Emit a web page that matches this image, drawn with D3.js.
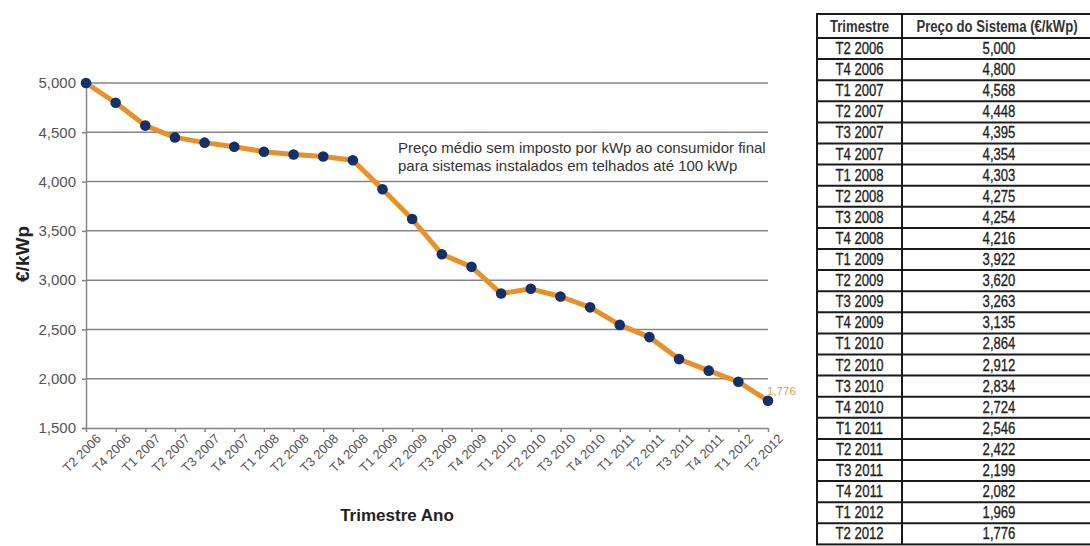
<!DOCTYPE html>
<html>
<head>
<meta charset="utf-8">
<script src="https://cdn.jsdelivr.net/npm/d3@7"></script>
<style>
  html, body { margin: 0; padding: 0; background: #fff; }
  svg { display: block; }
</style>
</head>
<body>
<svg id="chart" width="1090" height="546"></svg>
<script>
const categories = ["T2 2006","T4 2006","T1 2007","T2 2007","T3 2007","T4 2007","T1 2008","T2 2008","T3 2008","T4 2008","T1 2009","T2 2009","T3 2009","T4 2009","T1 2010","T2 2010","T3 2010","T4 2010","T1 2011","T2 2011","T3 2011","T4 2011","T1 2012","T2 2012"];
const prices = [5000,4800,4568,4448,4395,4354,4303,4275,4254,4216,3922,3620,3263,3135,2864,2912,2834,2724,2546,2422,2199,2082,1969,1776];
const yTicks = [1500,2000,2500,3000,3500,4000,4500,5000];
const tableHeaders = ["Trimestre","Preço do Sistema (€/kWp)"];
const yTitle = "€/kWp";
const xTitle = "Trimestre Ano";
const noteLines = ["Preço médio sem imposto por kWp ao consumidor final","para sistemas instalados em telhados até 100 kWp"];

const svg = d3.select("#chart");
const fmt = d3.format(",");
const FONT = "'Liberation Sans', Arial, sans-serif";

const x = d3.scalePoint().domain(categories).range([86, 768]);
const y = d3.scaleLinear().domain([1500, 5000]).range([428, 83]);

// gridlines
svg.append("g").selectAll("line").data(yTicks.slice(1)).join("line")
  .attr("x1", 86).attr("x2", 768)
  .attr("y1", d => y(d)).attr("y2", d => y(d))
  .attr("stroke", "#858585").attr("stroke-width", 1.5);

// y axis
const yAxis = svg.append("g").attr("transform", "translate(86,0)")
  .call(d3.axisLeft(y).tickValues(yTicks).tickFormat(fmt).tickSize(4).tickPadding(6));
yAxis.select(".domain").attr("stroke", "#858585").attr("stroke-width", 1.5);
yAxis.selectAll(".tick line").attr("stroke", "#858585").attr("stroke-width", 1.5);
yAxis.selectAll("text").attr("font-family", FONT)
  .attr("font-size", 15).attr("fill", "#555");

// x axis
const xAxis = svg.append("g").attr("transform", "translate(0,428)")
  .call(d3.axisBottom(x).tickSize(4).tickPadding(3).tickSizeOuter(0));
xAxis.select(".domain").attr("stroke", "#858585").attr("stroke-width", 1.5);
xAxis.selectAll(".tick line").attr("stroke", "#858585").attr("stroke-width", 1.5);
xAxis.selectAll("text")
  .attr("font-family", FONT)
  .attr("font-size", 13).attr("fill", "#555")
  .attr("text-anchor", "end")
  .attr("dy", "0.6em")
  .attr("transform", "translate(5,1) rotate(-45)");

// line
const line = d3.line().x((d, i) => x(categories[i])).y(d => y(d));
svg.append("path").datum(prices)
  .attr("d", line).attr("fill", "none")
  .attr("stroke", "#e8912b").attr("stroke-width", 5)
  .attr("stroke-linejoin", "round");

svg.append("g").selectAll("circle").data(prices).join("circle")
  .attr("cx", (d, i) => x(categories[i])).attr("cy", d => y(d))
  .attr("r", 5.3).attr("fill", "#13306b");

// last value label
svg.append("text")
  .attr("x", x(categories[categories.length - 1]) - 1)
  .attr("y", y(prices[prices.length - 1]) - 6)
  .attr("font-family", FONT)
  .attr("font-size", 11.5).attr("fill", "#d4a25a")
  .text(fmt(prices[prices.length - 1]));

// titles
svg.append("text")
  .attr("transform", "translate(29,254) rotate(-90)")
  .attr("text-anchor", "middle")
  .attr("font-family", FONT)
  .attr("font-size", 19).attr("font-weight", "bold").attr("fill", "#222")
  .text(yTitle);

svg.append("text")
  .attr("x", 397).attr("y", 521)
  .attr("text-anchor", "middle")
  .attr("font-family", FONT)
  .attr("font-size", 17).attr("font-weight", "bold").attr("fill", "#222")
  .text(xTitle);

// annotation
svg.append("g").selectAll("text").data(noteLines).join("text")
  .attr("x", 398).attr("y", (d, i) => 153 + i * 18)
  .attr("font-family", FONT)
  .attr("font-size", 15).attr("fill", "#333")
  .text(d => d);

// table
const tX0 = 817, tX1 = 902, tX2 = 1092;
const headTop = 14, headBottom = 38;
const rowH = 21.1;
const tbl = svg.append("g");
const SX = 0.82;

tbl.append("rect").attr("x", tX0).attr("y", headTop)
  .attr("width", tX2 - tX0).attr("height", headBottom - headTop + rowH * categories.length)
  .attr("fill", "#fff").attr("stroke", "#1a1a1a").attr("stroke-width", 2);

tbl.append("line").attr("x1", tX1).attr("x2", tX1)
  .attr("y1", headTop).attr("y2", headBottom + rowH * categories.length)
  .attr("stroke", "#1a1a1a").attr("stroke-width", 2);

tbl.selectAll("line.row").data(categories).join("line").attr("class", "row")
  .attr("x1", tX0).attr("x2", tX2)
  .attr("y1", (d, i) => headBottom + i * rowH).attr("y2", (d, i) => headBottom + i * rowH)
  .attr("stroke", "#1a1a1a").attr("stroke-width", 2);

tbl.selectAll("text.head").data(tableHeaders).join("text").attr("class", "head")
  .attr("transform", (d, i) => `translate(${i === 0 ? (tX0 + tX1) / 2 : 997},${(headTop + headBottom) / 2 + 6}) scale(${SX},1)`)
  .attr("text-anchor", "middle")
  .attr("font-family", FONT).attr("font-size", 16).attr("font-weight", "bold")
  .attr("fill", "#333")
  .text(d => d);

tbl.selectAll("text.cat").data(categories).join("text").attr("class", "cat")
  .attr("transform", (d, i) => `translate(${(tX0 + tX1) / 2},${headBottom + i * rowH + rowH / 2 + 5.5}) scale(${SX},1)`)
  .attr("text-anchor", "middle")
  .attr("font-family", FONT).attr("font-size", 16).attr("fill", "#222")
  .attr("stroke", "#222").attr("stroke-width", 0.3)
  .text(d => d);

tbl.selectAll("text.val").data(prices).join("text").attr("class", "val")
  .attr("transform", (d, i) => `translate(999,${headBottom + i * rowH + rowH / 2 + 5.5}) scale(${SX},1)`)
  .attr("text-anchor", "middle")
  .attr("font-family", FONT).attr("font-size", 16).attr("fill", "#222")
  .attr("stroke", "#222").attr("stroke-width", 0.3)
  .text(d => fmt(d));
</script>
</body>
</html>
